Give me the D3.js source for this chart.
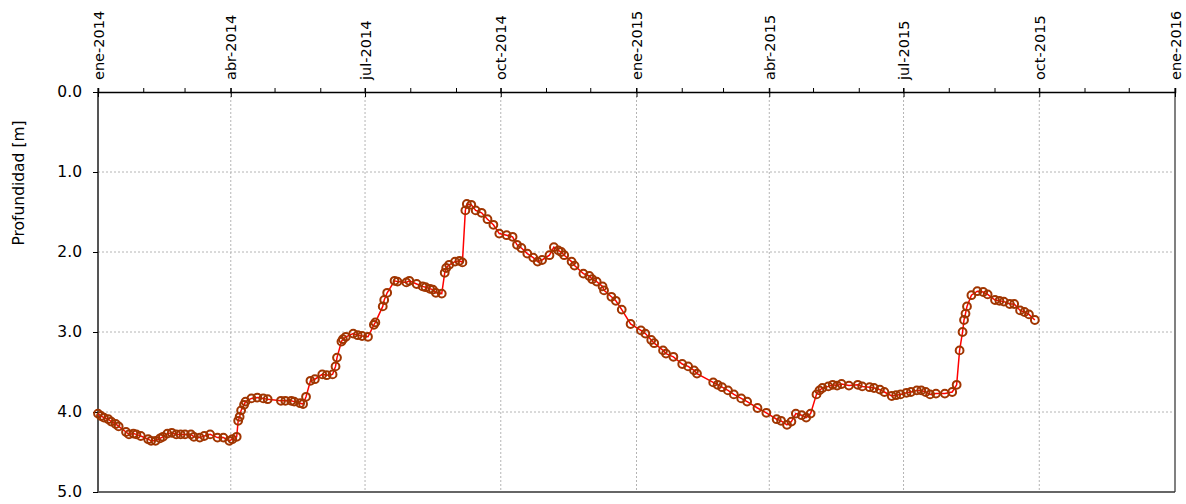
<!DOCTYPE html>
<html>
<head>
<meta charset="utf-8">
<script src="https://cdn.jsdelivr.net/npm/d3@7"></script>
<style>
  body { margin: 0; background: #fff; }
  svg { display: block; font-family: "DejaVu Sans", Verdana, sans-serif; }
</style>
</head>
<body>
<svg width="1186" height="504"></svg>
<script>
const dates = [
  "2014-01-01","2014-01-03","2014-01-05","2014-01-08","2014-01-10","2014-01-13","2014-01-15",
  "2014-01-20","2014-01-22","2014-01-25","2014-01-27","2014-01-30","2014-02-04","2014-02-06",
  "2014-02-09","2014-02-12","2014-02-14","2014-02-17","2014-02-20","2014-02-23","2014-02-26",
  "2014-03-01","2014-03-05","2014-03-07","2014-03-11","2014-03-14","2014-03-18","2014-03-23",
  "2014-03-27","2014-03-31","2014-04-02","2014-04-05","2014-04-06","2014-04-07","2014-04-08",
  "2014-04-10","2014-04-11","2014-04-15","2014-04-19","2014-04-23","2014-04-26","2014-05-05",
  "2014-05-08","2014-05-12","2014-05-14","2014-05-18","2014-05-20","2014-05-22","2014-05-25",
  "2014-05-28","2014-06-02","2014-06-05","2014-06-09","2014-06-11","2014-06-12","2014-06-15",
  "2014-06-16","2014-06-18","2014-06-23","2014-06-26","2014-06-29","2014-07-03","2014-07-07",
  "2014-07-08","2014-07-13","2014-07-14","2014-07-16","2014-07-21","2014-07-23","2014-07-29",
  "2014-07-31","2014-08-05","2014-08-09","2014-08-11","2014-08-14","2014-08-16","2014-08-18",
  "2014-08-22","2014-08-24","2014-08-25","2014-08-27","2014-08-31","2014-09-03","2014-09-05",
  "2014-09-07","2014-09-08","2014-09-11","2014-09-14","2014-09-18","2014-09-22","2014-09-26",
  "2014-09-30","2014-10-05","2014-10-09","2014-10-12","2014-10-15","2014-10-19","2014-10-23",
  "2014-10-26","2014-10-29","2014-11-03","2014-11-06","2014-11-09","2014-11-11","2014-11-13",
  "2014-11-18","2014-11-20","2014-11-26","2014-11-30","2014-12-02","2014-12-05","2014-12-09",
  "2014-12-10","2014-12-15","2014-12-18","2014-12-22","2014-12-28","2015-01-04","2015-01-07",
  "2015-01-11","2015-01-13","2015-01-19","2015-01-21","2015-01-26","2015-02-01","2015-02-05",
  "2015-02-09","2015-02-11","2015-02-22","2015-02-25","2015-02-28","2015-03-04","2015-03-08",
  "2015-03-13","2015-03-17","2015-03-24","2015-03-30","2015-04-06","2015-04-09","2015-04-13",
  "2015-04-16","2015-04-19","2015-04-23","2015-04-26","2015-04-29","2015-05-03","2015-05-05",
  "2015-05-07","2015-05-11","2015-05-14","2015-05-17","2015-05-20","2015-05-25","2015-05-31",
  "2015-06-03","2015-06-08","2015-06-11","2015-06-15","2015-06-18","2015-06-23","2015-06-26",
  "2015-06-29","2015-07-03","2015-07-06","2015-07-10","2015-07-13","2015-07-16","2015-07-19",
  "2015-07-23","2015-07-29","2015-08-03","2015-08-06","2015-08-08","2015-08-10","2015-08-11",
  "2015-08-12","2015-08-13","2015-08-16","2015-08-20","2015-08-24","2015-08-27","2015-09-01",
  "2015-09-04","2015-09-07","2015-09-11","2015-09-14","2015-09-18","2015-09-21","2015-09-24",
  "2015-09-28"
];
// depth below surface [m]
const depths = [
  4.02,4.05,4.07,4.09,4.12,4.15,4.18,
  4.25,4.28,4.27,4.28,4.30,4.34,4.36,
  4.36,4.33,4.31,4.27,4.26,4.28,4.28,
  4.28,4.28,4.31,4.32,4.30,4.28,4.32,
  4.32,4.36,4.34,4.31,4.11,4.06,3.98,
  3.91,3.87,3.83,3.82,3.83,3.84,3.86,
  3.86,3.86,3.87,3.89,3.90,3.81,3.61,
  3.59,3.53,3.54,3.53,3.43,3.32,3.12,
  3.09,3.06,3.02,3.04,3.05,3.06,2.91,
  2.88,2.68,2.60,2.51,2.36,2.37,2.38,
  2.36,2.40,2.43,2.44,2.46,2.47,2.51,
  2.52,2.26,2.20,2.16,2.12,2.11,2.13,
  1.48,1.40,1.41,1.48,1.51,1.59,1.66,
  1.77,1.79,1.81,1.91,1.95,2.02,2.07,
  2.12,2.10,2.04,1.94,1.98,2.00,2.04,
  2.12,2.17,2.27,2.30,2.34,2.37,2.43,
  2.48,2.56,2.61,2.72,2.90,2.98,3.02,
  3.10,3.14,3.23,3.27,3.31,3.40,3.43,
  3.48,3.52,3.63,3.66,3.69,3.73,3.78,
  3.83,3.87,3.95,4.01,4.09,4.11,4.16,
  4.12,4.02,4.04,4.07,4.02,3.78,3.73,
  3.70,3.68,3.66,3.67,3.65,3.67,3.66,
  3.68,3.69,3.70,3.72,3.75,3.80,3.79,
  3.78,3.76,3.75,3.73,3.73,3.75,3.78,
  3.77,3.77,3.75,3.66,3.23,3.00,2.85,
  2.77,2.68,2.54,2.49,2.50,2.53,2.60,
  2.61,2.62,2.65,2.65,2.73,2.75,2.78,
  2.85
];
const yTicks = [0, 1, 2, 3, 4, 5];
const monthNames = ["ene","feb","mar","abr","may","jun","jul","ago","sep","oct","nov","dic"];

const svg = d3.select("svg");
const plot = { left: 98, right: 1175, top: 92, bottom: 492 };

const parse = d3.utcParse("%Y-%m-%d");
const data = dates.map((d, i) => ({ date: parse(d), depth: depths[i] }));

const start = new Date(Date.UTC(2014, 0, 1)), end = new Date(Date.UTC(2016, 0, 1));
const x = d3.scaleUtc().domain([start, end]).range([plot.left, plot.right]);
const y = d3.scaleLinear().domain([0, 5]).range([plot.top, plot.bottom]);

const quarters = d3.utcMonth.every(3).range(start, d3.utcDay.offset(end, 1));
const months = d3.utcMonth.range(start, d3.utcDay.offset(end, 1));

// grid
svg.append("g").selectAll("line").data(quarters.slice(1, -1)).join("line")
  .attr("x1", d => x(d)).attr("x2", d => x(d))
  .attr("y1", plot.top).attr("y2", plot.bottom)
  .attr("stroke", "#b4b4b4").attr("stroke-dasharray", "2,2");
svg.append("g").selectAll("line").data(yTicks.slice(1, -1)).join("line")
  .attr("x1", plot.left).attr("x2", plot.right)
  .attr("y1", d => y(d)).attr("y2", d => y(d))
  .attr("stroke", "#b4b4b4").attr("stroke-dasharray", "2,2");

// frame
svg.append("line").attr("x1", plot.right).attr("x2", plot.right).attr("y1", plot.top).attr("y2", plot.bottom)
  .attr("stroke", "#808080").attr("stroke-width", 2);
svg.append("line").attr("x1", plot.left).attr("x2", plot.right).attr("y1", plot.bottom).attr("y2", plot.bottom)
  .attr("stroke", "#333").attr("stroke-width", 1.5);
svg.append("line").attr("x1", plot.left).attr("x2", plot.left).attr("y1", plot.top).attr("y2", plot.bottom)
  .attr("stroke", "#555").attr("stroke-width", 2);

// top x axis: major ticks with labels, minor monthly ticks
const xAxis = d3.axisTop(x)
  .tickValues(quarters)
  .tickSize(4)
  .tickFormat(d => monthNames[d.getUTCMonth()] + "-" + d.getUTCFullYear());
const gx = svg.append("g").attr("transform", `translate(0,${plot.top})`).call(xAxis);
gx.select(".domain").attr("stroke", "#000").attr("stroke-width", 1.5);
gx.selectAll(".tick line").attr("y2", -4).attr("y1", 5).attr("stroke", "#000");
gx.selectAll(".tick text")
  .attr("transform", "rotate(-90)")
  .attr("x", 12).attr("y", 0).attr("dy", "0.35em")
  .attr("text-anchor", "start")
  .attr("font-size", 14.5).attr("font-family", "DejaVu Sans, Verdana, sans-serif")
  .attr("fill", "#000");
svg.append("g").selectAll("line").data(months).join("line")
  .attr("x1", d => x(d)).attr("x2", d => x(d))
  .attr("y1", plot.top - 4).attr("y2", plot.top)
  .attr("stroke", "#000");

// left y axis
const yAxis = d3.axisLeft(y).tickValues(yTicks).tickSize(5).tickFormat(d3.format(".1f"));
const gy = svg.append("g").attr("transform", `translate(${plot.left},0)`).call(yAxis);
gy.select(".domain").remove();
gy.selectAll(".tick line").attr("stroke", "#000");
gy.selectAll(".tick text").attr("x", -16)
  .attr("font-size", 15.5).attr("font-family", "DejaVu Sans, Verdana, sans-serif").attr("fill", "#000");

svg.append("text")
  .attr("transform", "translate(24,183) rotate(-90)")
  .attr("text-anchor", "middle")
  .attr("font-size", 15.5)
  .text("Profundidad [m]");

// series
const line = d3.line().x(d => x(d.date)).y(d => y(d.depth));
svg.append("path").datum(data)
  .attr("d", line)
  .attr("fill", "none").attr("stroke", "#ff0000").attr("stroke-width", 1.5);
svg.append("g").selectAll("circle").data(data).join("circle")
  .attr("cx", d => x(d.date)).attr("cy", d => y(d.depth))
  .attr("r", 3.9)
  .attr("fill", "none").attr("stroke", "#a03500").attr("stroke-width", 2);
</script>
</body>
</html>
